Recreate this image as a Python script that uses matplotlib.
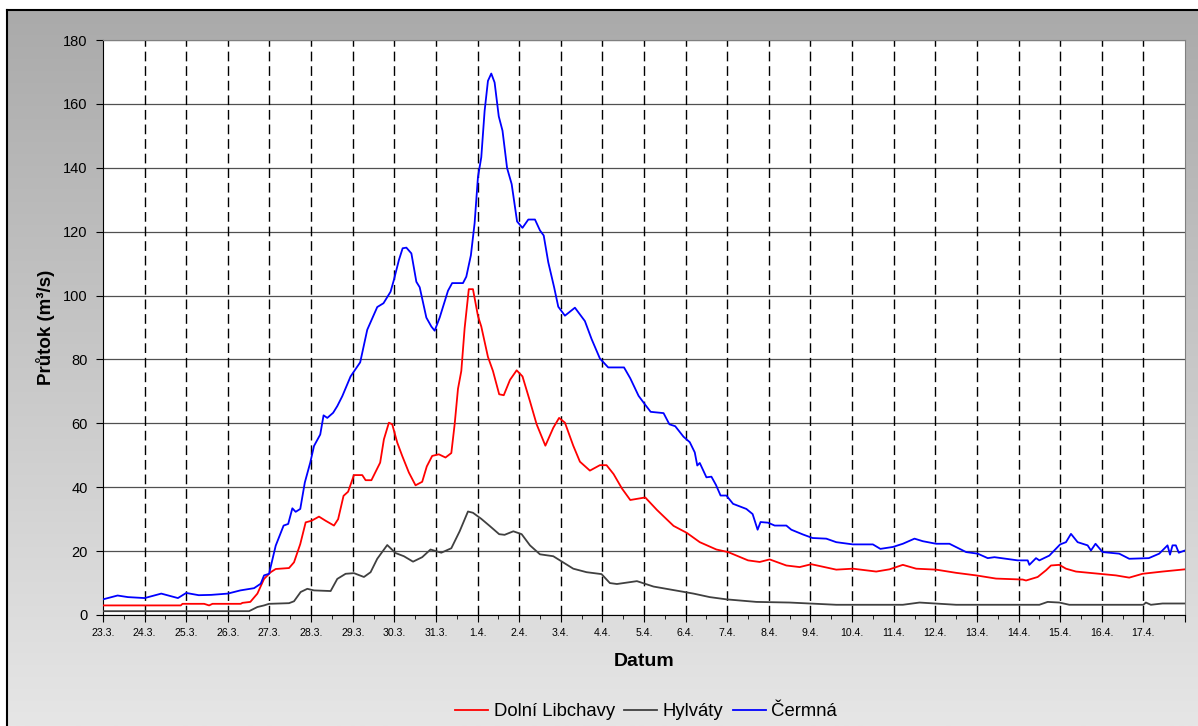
import numpy as np
import matplotlib
matplotlib.use('Agg')
import matplotlib.pyplot as plt
from matplotlib.colors import LinearSegmentedColormap

plt.rcParams['font.family'] = ['Liberation Sans', 'DejaVu Sans']

# days since 23.3. 00:00
day_labels = ['23.3.', '24.3.', '25.3.', '26.3.', '27.3.', '28.3.', '29.3.', '30.3.', '31.3.',
              '1.4.', '2.4.', '3.4.', '4.4.', '5.4.', '6.4.', '7.4.', '8.4.', '9.4.', '10.4.',
              '11.4.', '12.4.', '13.4.', '14.4.', '15.4.', '16.4.', '17.4.']

t_cermna = [0.0, 0.35, 0.6, 1.0, 1.4, 1.8, 2.0, 2.3, 2.6, 3.0, 3.3, 3.63, 3.79, 3.87, 3.99,
            4.15, 4.34, 4.45, 4.55, 4.63, 4.74, 4.85, 4.98, 5.07, 5.22, 5.30, 5.39, 5.53, 5.63,
            5.75, 5.95, 6.18, 6.35, 6.59, 6.74, 6.91, 6.99, 7.11, 7.20, 7.29, 7.41, 7.53, 7.61,
            7.77, 7.89, 7.97, 8.09, 8.29, 8.39, 8.65, 8.73, 8.84, 8.93, 9.01, 9.09, 9.17, 9.25,
            9.33, 9.41, 9.51, 9.60, 9.71, 9.82, 9.95, 10.08, 10.22, 10.38, 10.50, 10.59, 10.70,
            10.84, 10.94, 11.10, 11.34, 11.58, 11.74, 11.94, 12.14, 12.52, 12.67, 12.87, 13.03,
            13.16, 13.47, 13.61, 13.75, 13.95, 14.10, 14.22, 14.28, 14.34, 14.50, 14.62, 14.73,
            14.84, 14.98, 15.14, 15.46, 15.61, 15.73, 15.80, 15.98, 16.14, 16.42, 16.54, 16.82,
            17.05, 17.38, 17.62, 18.02, 18.50, 18.68, 18.98, 19.22, 19.50, 19.70, 20.02, 20.34,
            20.74, 21.02, 21.26, 21.42, 21.70, 21.98, 22.22, 22.26, 22.42, 22.50, 22.74, 23.00,
            23.14, 23.26, 23.42, 23.66, 23.74, 23.85, 24.02, 24.42, 24.66, 25.13, 25.38, 25.58,
            25.64, 25.70, 25.78, 25.85, 26.0]
q_cermna = [4.9, 6.1, 5.6, 5.3, 6.7, 5.3, 6.9, 6.2, 6.3, 6.7, 7.7, 8.4, 9.8, 12.4, 12.9,
            21.7, 28.0, 28.5, 33.4, 32.3, 33.2, 41.5, 47.7, 52.9, 56.5, 62.5, 61.7, 63.3, 65.4,
            68.5, 74.7, 79.1, 89.3, 96.4, 97.6, 101.2, 104.9, 111.1, 114.8, 115.0, 113.2, 104.3, 102.6,
            93.1, 90.3, 89.0, 93.1, 101.5, 103.9, 103.9, 105.9, 112.6, 122.7, 137.1, 143.3, 157.8, 167.2,
            169.5, 166.7, 156.1, 151.6, 139.9, 134.9, 123.2, 121.2, 123.8, 123.8, 120.4, 118.8, 110.4,
            102.6, 96.5, 93.7, 96.2, 92.0, 86.4, 80.3, 77.5, 77.5, 74.1, 68.6, 65.8,
            63.6, 63.2, 59.7, 59.1, 55.8, 54.1, 50.9, 46.8, 47.6, 43.1, 43.3, 40.7,
            37.4, 37.4, 34.8, 33.2, 31.6, 26.7, 29.1, 28.9, 28.0, 28.0, 26.7, 25.2,
            24.1, 23.9, 22.8, 22.1, 22.1, 20.7, 21.3, 22.3, 23.9, 23.1, 22.3, 22.3,
            19.7, 19.2, 17.8, 18.1, 17.6, 17.1, 17.1, 15.7, 17.8, 17.1, 18.6, 22.1,
            22.8, 25.4, 22.8, 21.8, 20.2, 22.3, 19.7, 19.2, 17.6, 17.8, 19.2, 21.8,
            18.9, 21.8, 21.8, 19.5, 20.2]

t_libchavy = [0.0, 1.87, 1.91, 2.43, 2.55, 2.63, 3.31, 3.35, 3.54, 3.71, 3.87, 4.03, 4.15, 4.47,
              4.59, 4.74, 4.87, 5.01, 5.19, 5.35, 5.55, 5.65, 5.78, 5.89, 6.03, 6.23, 6.31, 6.45,
              6.66, 6.75, 6.87, 6.95, 7.07, 7.19, 7.35, 7.51, 7.67, 7.78, 7.91, 8.07, 8.23, 8.37,
              8.45, 8.53, 8.61, 8.69, 8.79, 8.89, 9.01, 9.09, 9.25, 9.37, 9.52, 9.63, 9.78, 9.94,
              10.08, 10.26, 10.42, 10.63, 10.82, 10.96, 11.10, 11.30, 11.46, 11.70, 11.94, 12.10,
              12.27, 12.47, 12.67, 13.03, 13.31, 13.71, 14.03, 14.34, 14.74, 15.02, 15.50, 15.78,
              16.02, 16.42, 16.74, 17.02, 17.62, 18.02, 18.58, 18.90, 19.22, 19.54, 20.02, 20.50,
              20.98, 21.46, 22.10, 22.18, 22.46, 22.66, 22.78, 22.98, 23.14, 23.38, 23.94, 24.34,
              24.66, 24.98, 25.46, 26.0]
q_libchavy = [3.0, 3.0, 3.5, 3.5, 3.0, 3.5, 3.5, 3.8, 4.1, 6.7, 11.3, 13.4, 14.4, 14.7,
              16.5, 22.2, 29.0, 29.5, 30.8, 29.5, 28.0, 30.0, 37.3, 38.6, 43.8, 43.8, 42.2, 42.2,
              47.7, 55.0, 60.2, 59.7, 54.0, 49.8, 44.6, 40.6, 41.7, 46.5, 49.8, 50.3, 49.3, 50.7,
              59.7, 70.8, 76.4, 89.8, 102.0, 102.0, 93.6, 90.3, 80.8, 76.4, 69.1, 68.8, 73.6, 76.6,
              74.7, 66.9, 59.7, 53.0, 58.6, 61.7, 60.2, 53.0, 48.0, 45.2, 46.9, 46.9,
              44.1, 39.6, 36.0, 36.8, 32.9, 27.9, 25.7, 22.8, 20.5, 19.7, 17.1, 16.6,
              17.4, 15.5, 15.0, 15.9, 14.2, 14.5, 13.6, 14.3, 15.7, 14.5, 14.2, 13.2,
              12.4, 11.4, 11.1, 10.8, 11.9, 14.0, 15.5, 15.7, 14.5, 13.6, 12.9, 12.4,
              11.7, 12.9, 13.6, 14.3]

t_hylvaty = [0.0, 3.51, 3.71, 3.87, 3.99, 4.47, 4.59, 4.75, 4.91, 5.07, 5.47, 5.63, 5.83, 6.03,
             6.27, 6.43, 6.59, 6.83, 7.03, 7.23, 7.45, 7.67, 7.87, 8.13, 8.37, 8.57, 8.77, 8.89,
             9.09, 9.29, 9.52, 9.65, 9.86, 10.06, 10.26, 10.50, 10.82, 11.30, 11.62, 11.98, 12.18,
             12.35, 12.83, 13.23, 13.71, 14.19, 14.58, 14.98, 15.70, 16.50, 17.62, 19.22, 19.62,
             20.50, 22.50, 22.70, 22.98, 23.22, 25.00, 25.06, 25.18, 25.46, 26.0]
q_hylvaty = [1.2, 1.2, 2.5, 3.0, 3.5, 3.7, 4.3, 7.2, 8.2, 7.7, 7.5, 11.3, 12.9, 13.1,
             11.9, 13.4, 17.6, 21.9, 19.4, 18.4, 16.7, 18.1, 20.5, 19.5, 20.9, 26.2, 32.4, 32.0,
             30.1, 27.9, 25.3, 25.1, 26.2, 25.3, 21.8, 19.0, 18.4, 14.5, 13.4, 12.8, 10.0,
             9.7, 10.6, 8.9, 7.8, 6.7, 5.6, 4.9, 4.1, 3.9, 3.2, 3.2, 3.9,
             3.2, 3.2, 4.1, 3.9, 3.2, 3.2, 3.9, 3.2, 3.6, 3.6]

W, H = 1198, 726
fig = plt.figure(figsize=(W / 100, H / 100), dpi=100)
fig.patch.set_facecolor('white')

# grey gradient background with a black frame (Excel chart area)
bg = fig.add_axes([7 / W, 0, 1 - 7 / W, (H - 10) / H], zorder=0)
cmap = LinearSegmentedColormap.from_list('bg', ['#aaaaaa', '#e6e6e6'])
bg.imshow(np.linspace(0, 1, 256).reshape(-1, 1), cmap=cmap, aspect='auto',
          extent=[0, 1, 0, 1], origin='upper')
bg.set_xticks([])
bg.set_yticks([])
for s in ['right', 'bottom']:
    bg.spines[s].set_visible(False)
for s in ['left', 'top']:
    bg.spines[s].set_color('black')
    bg.spines[s].set_linewidth(1.5)

ax = fig.add_axes([103 / W, (H - 615) / H, (1185 - 103) / W, (615 - 40) / H], zorder=1)
ax.set_facecolor('white')

ax.plot(t_libchavy, q_libchavy, color='#ff0000', lw=1.3, label='Dolní Libchavy', zorder=4)
ax.plot(t_hylvaty, q_hylvaty, color='#404040', lw=1.3, label='Hylváty', zorder=3)
ax.plot(t_cermna, q_cermna, color='#0000ff', lw=1.3, label='Čermná', zorder=5)

ax.set_xlim(0, 26)
ax.set_ylim(0, 180)
ax.set_yticks(np.arange(0, 181, 20))
ax.set_xticks(np.arange(0, 27, 1))
ax.set_xticklabels(day_labels + [''])
ax.set_xticks(np.arange(0.5, 26, 1), minor=True)

ax.yaxis.grid(True, color='#505050', lw=0.9)
for d in range(1, 26):
    ax.axvline(d, color='black', lw=1.0, dashes=(7, 3.5), zorder=2)

ax.tick_params(axis='y', direction='out', length=5, labelsize=10.5, pad=6, color='black')
ax.tick_params(axis='x', which='major', direction='out', length=5, labelsize=7.6, pad=4)
ax.tick_params(axis='x', which='minor', direction='out', length=3)

ax.spines['left'].set_color('black')
ax.spines['bottom'].set_color('black')
ax.spines['top'].set_color('#808080')
ax.spines['right'].set_color('#808080')

ax.set_xlabel('Datum', fontsize=14, fontweight='bold', labelpad=11)
ax.set_ylabel('Průtok (m³/s)', fontsize=13.5, fontweight='bold', labelpad=6)

fig.legend(loc='center', bbox_to_anchor=(646 / W, 1 - 712 / H), ncol=3, frameon=False,
           fontsize=13.3, handlelength=1.8, handletextpad=0.3, columnspacing=0.5)

plt.savefig('out.png', dpi=100)
